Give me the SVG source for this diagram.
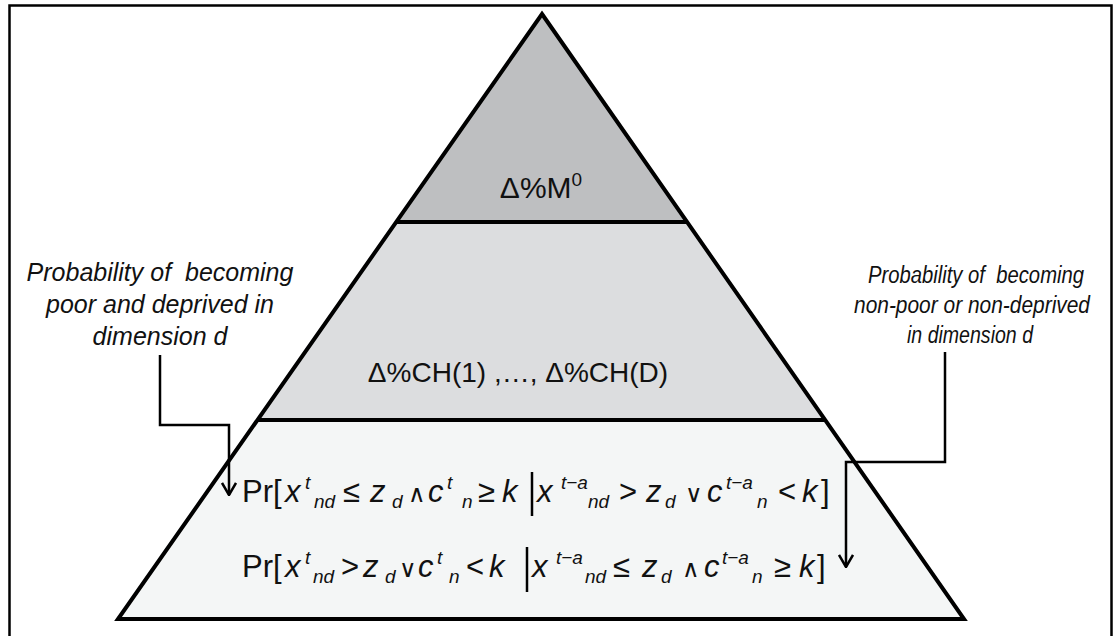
<svg xmlns="http://www.w3.org/2000/svg" width="1116" height="636" viewBox="0 0 1116 636">
<style>
.lbl{font-family:"Liberation Sans",Arial,sans-serif;font-style:italic;font-size:25px;fill:#111;text-anchor:middle}
.lbr{font-family:"Liberation Sans",Arial,sans-serif;font-style:italic;font-size:23px;fill:#111;text-anchor:middle}
.m{font-family:"Liberation Sans",Arial,sans-serif;font-size:31px;fill:#111}
.i{font-style:italic}
.op{font-size:24px}
.s{font-family:"Liberation Sans",Arial,sans-serif;font-style:italic;font-size:19px;fill:#111}
.band{stroke:none}
.edge{fill:none;stroke:#000;stroke-width:4;stroke-linejoin:miter}
.conn{fill:none;stroke:#000;stroke-width:2.5}
.bar{stroke:#000;stroke-width:2.5}
</style>
<defs>
<marker id="ah" viewBox="0 0 14 16" refX="13" refY="8" markerWidth="14" markerHeight="16" markerUnits="userSpaceOnUse" orient="auto">
<path d="M1,1 L13,8 L1,15" fill="none" stroke="#000" stroke-width="2.5"/>
</marker>
</defs>
<rect x="0" y="0" width="1116" height="636" fill="#fff"/>
<rect id="frame" x="9.5" y="5.5" width="1102" height="650" fill="none" stroke="#000" stroke-width="2.5"/>
<g id="pyramid">
<g id="level-top">
<polygon class="band" fill="#bebfc1" points="542,14 396,222 687,222"/>
<text x="541" y="198" font-family="'Liberation Sans',Arial,sans-serif" font-size="30" fill="#111" text-anchor="middle">Δ%M<tspan font-size="19" dy="-12">0</tspan></text>
</g>
<g id="level-middle">
<polygon class="band" fill="#dcdddf" points="396,222 687,222 825,420 257,420"/>
<text x="518" y="382" font-family="'Liberation Sans',Arial,sans-serif" font-size="28" fill="#111" text-anchor="middle">Δ%CH(1) ,…, Δ%CH(D)</text>
</g>
<g id="level-bottom">
<polygon class="band" fill="#f4f6f6" points="257,420 825,420 964,619 118,619"/>
<text class="m"><tspan x="242" y="502">Pr[</tspan><tspan class="i" x="285" y="502">x</tspan><tspan class="s" x="305" y="489">t</tspan><tspan class="s" x="314" y="508">nd</tspan><tspan x="343" y="502">≤</tspan><tspan class="i" x="370" y="502">z</tspan><tspan class="s" x="392" y="508">d</tspan><tspan class="op" x="408" y="502">∧</tspan><tspan class="i" x="428" y="502">c</tspan><tspan class="s" x="447" y="489">t</tspan><tspan class="s" x="462" y="508">n</tspan><tspan x="478" y="502">≥</tspan><tspan class="i" x="502" y="502">k</tspan><tspan class="i" x="537" y="502">x</tspan><tspan class="s" x="561" y="489">t−a</tspan><tspan class="s" x="588" y="508">nd</tspan><tspan x="619" y="502">&gt;</tspan><tspan class="i" x="646" y="502">z</tspan><tspan class="s" x="665" y="508">d</tspan><tspan class="op" x="685" y="502">∨</tspan><tspan class="i" x="707" y="502">c</tspan><tspan class="s" x="726" y="489">t−a</tspan><tspan class="s" x="757" y="508">n</tspan><tspan x="778" y="502">&lt;</tspan><tspan class="i" x="802" y="502">k</tspan><tspan x="821" y="502">]</tspan></text>
<line class="bar" x1="532" y1="472" x2="532" y2="516"/>
<text class="m"><tspan x="242" y="577">Pr[</tspan><tspan class="i" x="285" y="577">x</tspan><tspan class="s" x="305" y="564">t</tspan><tspan class="s" x="313" y="583">nd</tspan><tspan x="341" y="577">&gt;</tspan><tspan class="i" x="363" y="577">z</tspan><tspan class="s" x="385" y="583">d</tspan><tspan class="op" x="399" y="577">∨</tspan><tspan class="i" x="418" y="577">c</tspan><tspan class="s" x="437" y="564">t</tspan><tspan class="s" x="449" y="583">n</tspan><tspan x="466" y="577">&lt;</tspan><tspan class="i" x="489" y="577">k</tspan><tspan class="i" x="532" y="577">x</tspan><tspan class="s" x="556" y="564">t−a</tspan><tspan class="s" x="585" y="583">nd</tspan><tspan x="613" y="577">≤</tspan><tspan class="i" x="642" y="577">z</tspan><tspan class="s" x="661" y="583">d</tspan><tspan class="op" x="682" y="577">∧</tspan><tspan class="i" x="704" y="577">c</tspan><tspan class="s" x="722" y="564">t−a</tspan><tspan class="s" x="752" y="583">n</tspan><tspan x="774" y="577">≥</tspan><tspan class="i" x="799" y="577">k</tspan><tspan x="817" y="577">]</tspan></text>
<line class="bar" x1="527" y1="547" x2="527" y2="592"/>
</g>
<polygon class="edge" points="542,14 964,619 118,619"/>
<line class="edge" x1="396" y1="222" x2="687" y2="222"/>
<line class="edge" x1="257" y1="420" x2="825" y2="420"/>
</g>
<g id="label-left">
<text class="lbl" x="160" y="281">Probability of&#160; becoming</text>
<text class="lbl" x="160" y="313">poor and deprived in</text>
<text class="lbl" x="160" y="345">dimension d</text>
</g>
<g id="label-right">
<text class="lbr" x="976" y="283" textLength="216" lengthAdjust="spacingAndGlyphs">Probability of&#160; becoming</text>
<text class="lbr" x="972" y="313" textLength="236" lengthAdjust="spacingAndGlyphs">non-poor or non-deprived</text>
<text class="lbr" x="970" y="343" textLength="126" lengthAdjust="spacingAndGlyphs">in dimension d</text>
</g>
<g id="connectors">
<polyline class="conn" points="160,355 160,425 229,425 229,495" marker-end="url(#ah)"/>
<polyline class="conn" points="945,352 945,462 846,462 846,567" marker-end="url(#ah)"/>
</g>
</svg>
